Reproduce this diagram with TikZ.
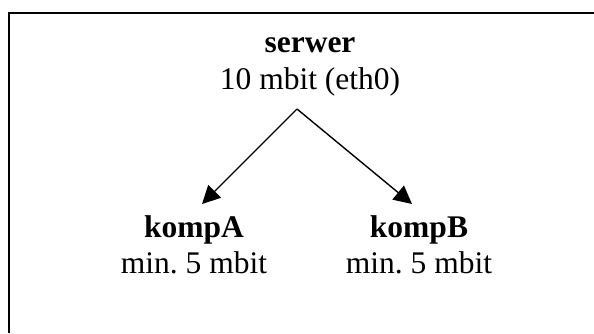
\documentclass[tikz,border=0pt]{standalone}
\usepackage{fontspec}
\setmainfont{Liberation Serif}
\usetikzlibrary{arrows.meta}
\frenchspacing
\tikzset{
	host/.style={align=center, inner sep=0pt, font=\fontsize{31.5}{36.5}\selectfont},
	link/.style={line width=1.4pt, -{Triangle[length=18pt,width=18pt]}},
	frame/.style={line width=1.7pt}
}

\begin{document}
\begin{tikzpicture}[x=1pt,y=-1pt]
	\useasboundingbox (0,0) rectangle (594,333);
	\draw[frame] (9,333) -- (9,13) -- (594,13);
	\node[host] (serwer) at (310,67) {\textbf{serwer}\\10 mbit (eth0)};
	\node[host] (kompA) at (194,245) {\textbf{kompA}\\min. 5 mbit};
	\node[host] (kompB) at (419,245) {\textbf{kompB}\\min. 5 mbit};
	\coordinate (split) at (297,109);
	\coordinate (tipA) at (202,204);
	\coordinate (tipB) at (412,204);
	\draw[link] (split) -- (tipA);
	\draw[link] (split) -- (tipB);
\end{tikzpicture}
\end{document}
